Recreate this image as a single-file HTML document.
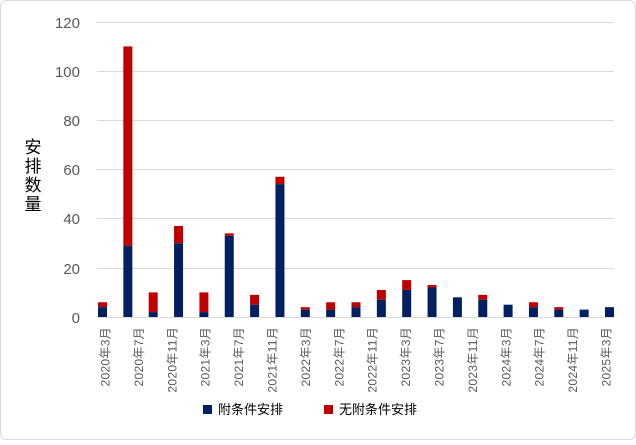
<!DOCTYPE html>
<html><head><meta charset="utf-8"><style>
body{margin:0;background:#fff}
</style></head><body>
<svg width="636" height="440" xmlns="http://www.w3.org/2000/svg" font-family="Liberation Sans, Noto Sans CJK SC, sans-serif">
<rect x="0.5" y="0.5" width="635" height="439" rx="6" fill="#fff" stroke="#d9d9d9"/>
<g stroke="#d9d9d9" stroke-width="1">
<line x1="97" x2="614" y1="22.5" y2="22.5"/>
<line x1="97" x2="614" y1="71.5" y2="71.5"/>
<line x1="97" x2="614" y1="120.5" y2="120.5"/>
<line x1="97" x2="614" y1="169.5" y2="169.5"/>
<line x1="97" x2="614" y1="218.5" y2="218.5"/>
<line x1="97" x2="614" y1="268.5" y2="268.5"/>
<line x1="97" x2="614" y1="317.5" y2="317.5"/>
</g>
<g font-size="15" fill="#595959" text-anchor="end">
<text x="80" y="28">120</text><text x="80" y="77">100</text><text x="80" y="126">80</text>
<text x="80" y="175">60</text><text x="80" y="224">40</text><text x="80" y="274">20</text><text x="80" y="323">0</text>
</g>
<g font-size="17" fill="#000" text-anchor="middle">
<text x="33" y="153">安</text><text x="33" y="172">排</text><text x="33" y="191">数</text><text x="33" y="210">量</text>
</g>
<g fill="#c00000">
<rect x="98" y="302.24" width="9" height="4.92"/>
<rect x="123.35" y="46.4" width="9" height="199.26"/>
<rect x="148.7" y="292.4" width="9" height="19.68"/>
<rect x="174.05" y="225.98" width="9" height="17.22"/>
<rect x="199.4" y="292.4" width="9" height="19.68"/>
<rect x="224.75" y="233.36" width="9" height="2.46"/>
<rect x="250.1" y="294.86" width="9" height="9.84"/>
<rect x="275.45" y="176.78" width="9" height="7.38"/>
<rect x="300.8" y="307.16" width="9" height="2.46"/>
<rect x="326.15" y="302.24" width="9" height="7.38"/>
<rect x="351.5" y="302.24" width="9" height="4.92"/>
<rect x="376.85" y="289.94" width="9" height="9.84"/>
<rect x="402.2" y="280.1" width="9" height="9.84"/>
<rect x="427.55" y="285.02" width="9" height="2.46"/>
<rect x="478.25" y="294.86" width="9" height="4.92"/>
<rect x="528.95" y="302.24" width="9" height="4.92"/>
<rect x="554.3" y="307.16" width="9" height="2.46"/>
</g>
<g fill="#002060">
<rect x="98" y="307.16" width="9" height="9.84"/>
<rect x="123.35" y="245.66" width="9" height="71.34"/>
<rect x="148.7" y="312.08" width="9" height="4.92"/>
<rect x="174.05" y="243.2" width="9" height="73.8"/>
<rect x="199.4" y="312.08" width="9" height="4.92"/>
<rect x="224.75" y="235.82" width="9" height="81.18"/>
<rect x="250.1" y="304.7" width="9" height="12.3"/>
<rect x="275.45" y="184.16" width="9" height="132.84"/>
<rect x="300.8" y="309.62" width="9" height="7.38"/>
<rect x="326.15" y="309.62" width="9" height="7.38"/>
<rect x="351.5" y="307.16" width="9" height="9.84"/>
<rect x="376.85" y="299.78" width="9" height="17.22"/>
<rect x="402.2" y="289.94" width="9" height="27.06"/>
<rect x="427.55" y="287.48" width="9" height="29.52"/>
<rect x="452.9" y="297.32" width="9" height="19.68"/>
<rect x="478.25" y="299.78" width="9" height="17.22"/>
<rect x="503.6" y="304.7" width="9" height="12.3"/>
<rect x="528.95" y="307.16" width="9" height="9.84"/>
<rect x="554.3" y="309.62" width="9" height="7.38"/>
<rect x="579.65" y="309.62" width="9" height="7.38"/>
<rect x="605" y="307.16" width="9" height="9.84"/>
</g>
<g font-size="12" fill="#595959" text-anchor="end" letter-spacing="0.3">
<text transform="translate(109.5,327) rotate(-90)">2020年3月</text>
<text transform="translate(142.9,327) rotate(-90)">2020年7月</text>
<text transform="translate(176.3,327) rotate(-90)">2020年11月</text>
<text transform="translate(209.7,327) rotate(-90)">2021年3月</text>
<text transform="translate(243.1,327) rotate(-90)">2021年7月</text>
<text transform="translate(276.5,327) rotate(-90)">2021年11月</text>
<text transform="translate(309.9,327) rotate(-90)">2022年3月</text>
<text transform="translate(343.3,327) rotate(-90)">2022年7月</text>
<text transform="translate(376.7,327) rotate(-90)">2022年11月</text>
<text transform="translate(410.1,327) rotate(-90)">2023年3月</text>
<text transform="translate(443.5,327) rotate(-90)">2023年7月</text>
<text transform="translate(476.9,327) rotate(-90)">2023年11月</text>
<text transform="translate(510.3,327) rotate(-90)">2024年3月</text>
<text transform="translate(543.7,327) rotate(-90)">2024年7月</text>
<text transform="translate(577.1,327) rotate(-90)">2024年11月</text>
<text transform="translate(610.5,327) rotate(-90)">2025年3月</text>
</g>
<rect x="203" y="405" width="9" height="9" fill="#002060"/>
<text x="218" y="414" font-size="13" fill="#000">附条件安排</text>
<rect x="324" y="405" width="9" height="9" fill="#c00000"/>
<text x="339" y="414" font-size="13" fill="#000">无附条件安排</text>
</svg>
</body></html>
